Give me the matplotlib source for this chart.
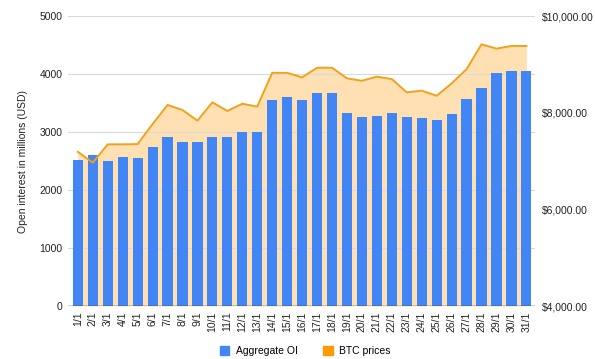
import matplotlib.pyplot as plt
from matplotlib.patches import Patch
from matplotlib.ticker import FuncFormatter

plt.rcParams['font.family'] = ['Liberation Sans', 'DejaVu Sans']
plt.rcParams['font.size'] = 7.5

dates = [f"{d}/1" for d in range(1, 32)]
oi = [2520, 2600, 2505, 2570, 2550, 2740, 2920, 2820, 2820, 2920, 2920, 3000, 3000,
      3550, 3610, 3560, 3670, 3670, 3320, 3265, 3280, 3320, 3265, 3235, 3205, 3310,
      3570, 3760, 4025, 4055, 4055]
btc = [7190, 6965, 7345, 7345, 7350, 7765, 8160, 8055, 7835, 8215, 8035, 8185, 8125,
       8825, 8825, 8730, 8930, 8930, 8710, 8660, 8745, 8695, 8420, 8455, 8350, 8605,
       8900, 9415, 9325, 9380, 9380]

blue = '#4285f4'
orange = '#ff9900'
x = list(range(len(dates)))

fig = plt.figure(figsize=(5.95, 3.59), dpi=100)
ax = fig.add_axes([0.114, 0.1476, 0.785, 0.8078])
ax2 = ax.twinx()
ax3 = ax.twinx()

# area behind, bars in middle, line on top
ax2.set_zorder(0)
ax.set_zorder(1)
ax3.set_zorder(2)
ax.patch.set_visible(False)
ax3.patch.set_visible(False)

ax2.fill_between(x, btc, 4000, color=orange, alpha=0.3, linewidth=0)
ax.bar(x, oi, width=0.68, color=blue, zorder=3)
ax3.plot(x, btc, color='#f0a21a', linewidth=1.4)

for a in (ax, ax2, ax3):
    a.set_xlim(-0.67, 30.57)
    for s in a.spines.values():
        s.set_visible(False)

ax.set_ylim(0, 5000)
ax.set_yticks(range(0, 5001, 1000))
ax.grid(axis='y', color='#d9d9d9', linewidth=0.8, zorder=0)
ax.axhline(0, color='#333333', linewidth=1.0, zorder=4)
ax.set_axisbelow(True)
ax.set_xticks(x)
ax.set_xticklabels(dates, rotation=90)
ax.tick_params(length=0, colors='#222222', pad=4)
ax.set_ylabel('Open interest in millions (USD)', color='#222222', labelpad=8)

for a in (ax2, ax3):
    a.set_ylim(4000, 10000)
ax2.set_yticks([4000, 6000, 8000, 10000])
ax2.yaxis.set_major_formatter(FuncFormatter(lambda v, p: f"${v:,.2f}"))
ax2.tick_params(length=0, colors='#222222', pad=5)
ax3.set_yticks([])

handles = [Patch(color=blue, label='Aggregate OI'), Patch(color=orange, label='BTC prices')]
fig.legend(handles=handles, loc='center', bbox_to_anchor=(0.513, 0.022), ncol=2,
           frameon=False, handlelength=0.9, handleheight=0.9, columnspacing=2.5,
           handletextpad=0.6, fontsize=7.5)

fig.savefig('out.png', dpi=100)
